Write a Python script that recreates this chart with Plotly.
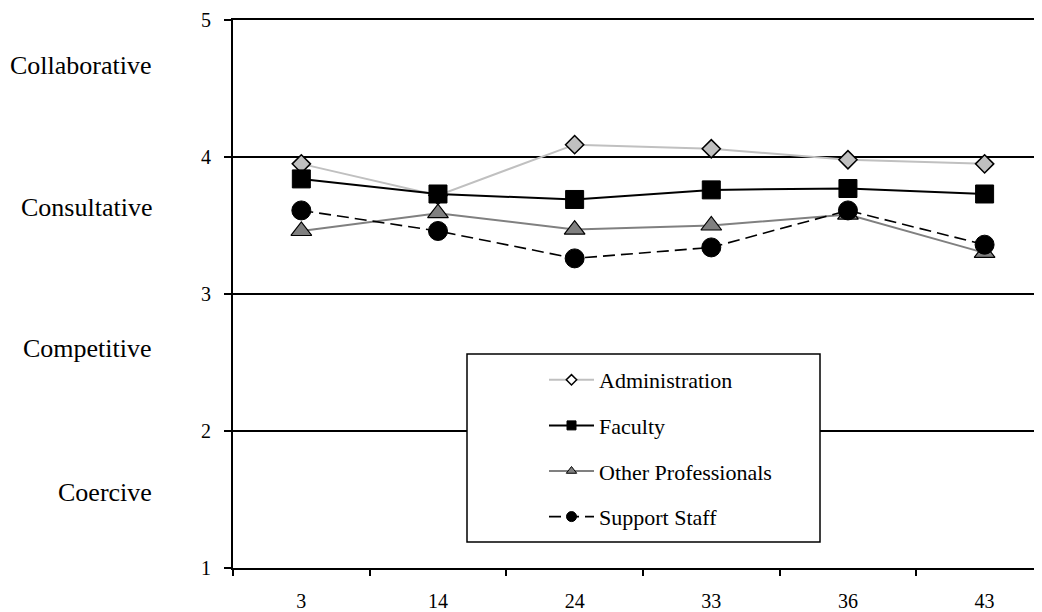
import plotly.graph_objects as go

categories = ["3", "14", "24", "33", "36", "43"]
administration = [3.95, 3.72, 4.09, 4.06, 3.98, 3.95]
faculty = [3.84, 3.73, 3.69, 3.76, 3.77, 3.73]
other_professionals = [3.46, 3.59, 3.47, 3.50, 3.58, 3.30]
support_staff = [3.61, 3.46, 3.26, 3.34, 3.61, 3.36]

y_ticks = [1, 2, 3, 4, 5]
style_labels = ["Collaborative", "Consultative", "Competitive", "Coercive"]
style_label_y = [4.67, 3.63, 2.60, 1.55]

FONT = "Liberation Serif"

# page has an 8px body margin; figure is sized so the plot lands at the reference pixels
OFF = 8
PL, PR, PT, PB = 233, 1042, 20, 568   # plot area in screen pixels
PW, PH = PR - PL, PB - PT


def px_x(px):
    return (px - PL) / PW


def px_y(py):
    return (PB - py) / PH


series = [
    dict(name="Administration", y=administration, line=dict(color="#c0c0c0", width=2),
         marker=dict(symbol="diamond", size=14, color="#c0c0c0", line=dict(color="black", width=1.5)),
         leg_marker=dict(symbol="diamond", size=8, color="white", line=dict(color="black", width=1.5))),
    dict(name="Faculty", y=faculty, line=dict(color="black", width=2),
         marker=dict(symbol="square", size=18, color="black", line=dict(color="black", width=1)),
         leg_marker=dict(symbol="square", size=9, color="black", line=dict(color="black", width=1))),
    dict(name="Other Professionals", y=other_professionals, line=dict(color="#808080", width=2),
         marker=dict(symbol="triangle-up", size=18, color="#808080", line=dict(color="black", width=1.2)),
         leg_marker=dict(symbol="triangle-up", size=9, color="#808080", line=dict(color="black", width=1))),
    dict(name="Support Staff", y=support_staff, line=dict(color="black", width=1.6, dash="12px,6px"),
         marker=dict(symbol="circle", size=19, color="black", line=dict(color="black", width=1)),
         leg_marker=dict(symbol="circle", size=10, color="black", line=dict(color="black", width=1))),
]

fig = go.Figure()
for s in series:
    fig.add_trace(go.Scatter(x=categories, y=s["y"], mode="lines+markers", name=s["name"],
                             line=s["line"], marker=s["marker"], showlegend=False))
for i, s in enumerate(series):
    fig.add_trace(go.Scatter(x=[None], y=[None], mode="lines+markers", name=s["name"],
                             line=s["line"], marker=s["leg_marker"], showlegend=True,
                             legendgroup=str(i)))

for lab, yv in zip(style_labels, style_label_y):
    fig.add_annotation(text=lab, xref="paper", yref="y", x=px_x(154), y=yv,
                       xanchor="right", yanchor="middle", showarrow=False,
                       font=dict(family=FONT, size=26, color="black"))

# legend frame
fig.add_shape(type="rect", xref="paper", yref="paper",
              x0=px_x(467), x1=px_x(820), y0=px_y(542), y1=px_y(354),
              fillcolor="white", line=dict(color="black", width=1.5), layer="above")

fig.update_layout(
    width=1042 - OFF, height=612 - OFF,
    margin=dict(l=PL - OFF, r=0, t=PT - OFF, b=612 - PB),
    paper_bgcolor="white", plot_bgcolor="white",
    font=dict(family=FONT, color="black"),
    showlegend=True,
    legend=dict(x=px_x(544), xanchor="left", y=px_y(359), yanchor="top",
                bgcolor="rgba(0,0,0,0)", borderwidth=0, font=dict(family=FONT, size=22, color="black"),
                tracegroupgap=14, itemwidth=45, traceorder="grouped"),
    xaxis=dict(type="category", range=[-0.5, 5.42], showline=True, linecolor="black", linewidth=2,
               mirror=True,
               ticks="outside", tickson="boundaries", ticklen=6, tickwidth=1.5, tickcolor="black",
               showgrid=False, zeroline=False, ticklabelstandoff=14,
               tickfont=dict(family=FONT, size=20, color="black")),
    yaxis=dict(range=[1, 5], tickvals=y_ticks, showline=True, linecolor="black", linewidth=2,
               ticks="outside", ticklen=7, tickwidth=1.5, tickcolor="black",
               showgrid=True, gridcolor="black", gridwidth=1.5, zeroline=False,
               ticklabelstandoff=9, tickfont=dict(family=FONT, size=20, color="black")),
)

fig.write_html("out.html")
